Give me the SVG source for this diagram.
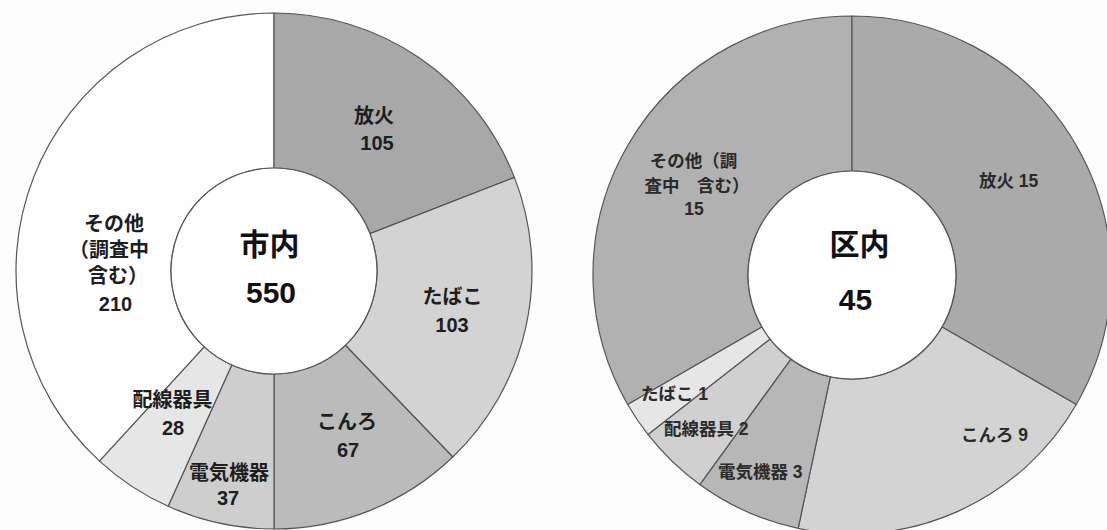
<svg xmlns="http://www.w3.org/2000/svg" width="1107" height="530" viewBox="0 0 1107 530">
<style>
.seg{stroke:#555;stroke-width:1.2;stroke-linejoin:round}
.hole{fill:#fff;stroke:#555;stroke-width:1.2}
text{font-family:"Liberation Sans","Noto Sans CJK JP","Noto Sans CJK SC",sans-serif;font-weight:bold;text-anchor:middle}
.lbl{font-size:20px;fill:#1e1e1e}
.lbr{font-size:17.5px;fill:#2a2a2a;text-anchor:start}
.lbrm{font-size:17.5px;fill:#2a2a2a}
.ctr{font-size:30px;fill:#111}
</style>
<rect width="1107" height="530" fill="#fdfdfd"/>
<g id="chart-city">
  <g id="city-sonota">
    <path class="seg" fill="#fefefe" d="M99.55,461.08 A258,258 0 0 1 274,13 L274,168 A103,103 0 0 0 204.35,346.89 Z"/>
    <text class="lbl" x="114" y="230.5">その他</text>
    <text class="lbl" x="109" y="257">（調査中</text>
    <text class="lbl" x="118" y="283">含む）</text>
    <text class="lbl" x="115.5" y="311">210</text>
  </g>
  <g id="city-houka">
    <path class="seg" fill="#a8a8a8" d="M274,13 A258,258 0 0 1 514.42,177.40 L369.98,233.63 A103,103 0 0 0 274,168 Z"/>
    <text class="lbl" x="374" y="123">放火</text>
    <text class="lbl" x="377" y="150">105</text>
  </g>
  <g id="city-tabako">
    <path class="seg" fill="#d3d3d3" d="M514.42,177.40 A258,258 0 0 1 452.75,457.04 L345.36,345.27 A103,103 0 0 0 369.98,233.63 Z"/>
    <text class="lbl" x="452.5" y="304">たばこ</text>
    <text class="lbl" x="452" y="332">103</text>
  </g>
  <g id="city-konro">
    <path class="seg" fill="#bbbbbb" d="M452.75,457.04 A258,258 0 0 1 274,529 L274,374 A103,103 0 0 0 345.36,345.27 Z"/>
    <text class="lbl" x="347" y="429">こんろ</text>
    <text class="lbl" x="348" y="457">67</text>
  </g>
  <g id="city-denki">
    <path class="seg" fill="#cecece" d="M274,529 A258,258 0 0 1 168.16,506.30 L231.75,364.94 A103,103 0 0 0 274,374 Z"/>
    <text class="lbl" x="229" y="480">電気機器</text>
    <text class="lbl" x="228" y="505">37</text>
  </g>
  <g id="city-haisen">
    <path class="seg" fill="#e6e6e6" d="M168.16,506.30 A258,258 0 0 1 99.55,461.08 L204.35,346.89 A103,103 0 0 0 231.75,364.94 Z"/>
    <text class="lbl" x="172.5" y="407">配線器具</text>
    <text class="lbl" x="173" y="435">28</text>
  </g>
  <g id="city-center">
    <circle class="hole" cx="274" cy="271" r="103"/>
    <text class="ctr" x="269.5" y="255">市内</text>
    <text class="ctr" x="271" y="303">550</text>
  </g>
</g>
<g id="chart-ward">
  <g id="ward-sonota">
    <path class="seg" fill="#b1b1b1" d="M627.70,404.5 A259,259 0 0 1 852,16 L852,171 A104,104 0 0 0 761.93,327 Z"/>
    <text class="lbrm" x="693.5" y="167">その他（調</text>
    <text class="lbrm" x="697" y="192">査中　含む）</text>
    <text class="lbrm" x="694" y="215">15</text>
  </g>
  <g id="ward-houka">
    <path class="seg" fill="#aaaaaa" d="M852,16 A259,259 0 0 1 1076.30,404.5 L942.07,327 A104,104 0 0 0 852,171 Z"/>
    <text class="lbr" x="979" y="187">放火 15</text>
  </g>
  <g id="ward-konro">
    <path class="seg" fill="#d3d3d3" d="M1076.30,404.5 A259,259 0 0 1 798.15,528.34 L830.38,376.73 A104,104 0 0 0 942.07,327 Z"/>
    <text class="lbr" x="961" y="441">こんろ 9</text>
  </g>
  <g id="ward-denki">
    <path class="seg" fill="#b7b7b7" d="M798.15,528.34 A259,259 0 0 1 699.76,484.54 L790.87,359.14 A104,104 0 0 0 830.38,376.73 Z"/>
    <text class="lbr" x="718" y="478">電気機器 3</text>
  </g>
  <g id="ward-haisen">
    <path class="seg" fill="#d0d0d0" d="M699.76,484.54 A259,259 0 0 1 647.91,434.46 L770.05,339.03 A104,104 0 0 0 790.87,359.14 Z"/>
    <text class="lbr" x="664" y="435">配線器具 2</text>
  </g>
  <g id="ward-tabako">
    <path class="seg" fill="#e6e6e6" d="M647.91,434.46 A259,259 0 0 1 627.70,404.5 L761.93,327 A104,104 0 0 0 770.05,339.03 Z"/>
    <text class="lbr" x="641" y="400">たばこ 1</text>
  </g>
  <g id="ward-center">
    <circle class="hole" cx="852" cy="275" r="104"/>
    <text class="ctr" x="859.5" y="255">区内</text>
    <text class="ctr" x="855.5" y="310">45</text>
  </g>
</g>
<g id="connectors"/>
</svg>
